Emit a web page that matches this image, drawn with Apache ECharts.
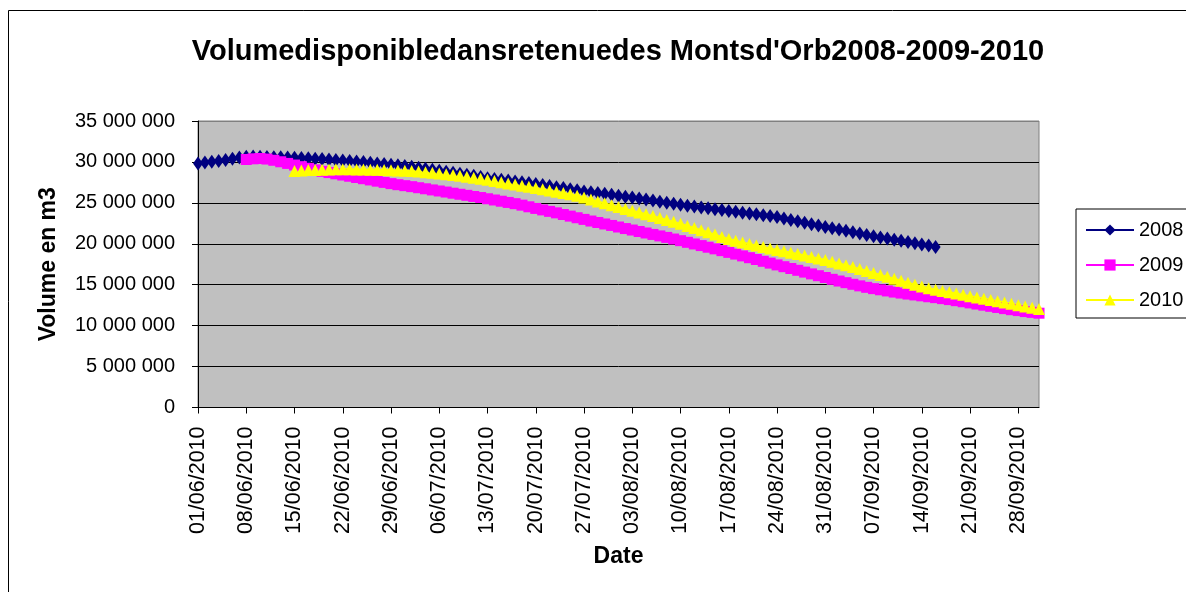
<!DOCTYPE html>
<html>
<head>
<meta charset="utf-8">
<script src="https://cdn.jsdelivr.net/npm/echarts@6/dist/echarts.min.js"></script>
<style>
  html, body { margin: 0; padding: 0; background: #fff; }
  #chart { width: 1186px; height: 592px; }
</style>
</head>
<body>
<div id="chart"></div>
<script>
// jours du 01/06/2010 au 01/10/2010
const categories = []
for (let d = Date.UTC(2010, 5, 1); d <= Date.UTC(2010, 9, 1); d += 86400000) {
  const t = new Date(d)
  const dd = String(t.getUTCDate()).padStart(2, '0')
  const mm = String(t.getUTCMonth() + 1).padStart(2, '0')
  categories.push(dd + '/' + mm + '/' + t.getUTCFullYear())
}

const seriesNames = ['2008', '2009', '2010']
const yTicks = [0, 5, 10, 15, 20, 25, 30, 35] // millions de m3

// volumes en millions de m3, un point par jour
const start2008 = 0
const vol2008 = [
  29.80, 29.92, 30.03, 30.12, 30.25, 30.40, 30.55,
  30.62, 30.65, 30.64, 30.60, 30.58, 30.56, 30.55,
  30.52, 30.48, 30.45, 30.40, 30.35, 30.30, 30.25,
  30.18, 30.12, 30.05, 29.98, 29.90, 29.82, 29.75,
  29.65, 29.58, 29.50, 29.40, 29.30, 29.18, 29.05,
  28.92, 28.80, 28.68, 28.55, 28.42, 28.30, 28.15,
  28.02, 27.92, 27.82, 27.72, 27.62, 27.52, 27.42,
  27.30, 27.18, 27.05, 26.92, 26.80, 26.66, 26.53,
  26.40, 26.30, 26.20, 26.10, 25.98, 25.86, 25.75,
  25.64, 25.52, 25.40, 25.28, 25.15, 25.02, 24.90,
  24.78, 24.66, 24.55, 24.44, 24.33, 24.22, 24.12,
  24.00, 23.90, 23.80, 23.70, 23.60, 23.50, 23.40,
  23.28, 23.10, 22.92, 22.75, 22.58, 22.40, 22.22,
  22.05, 21.90, 21.75, 21.60, 21.42, 21.25, 21.08,
  20.92, 20.78, 20.64, 20.50, 20.36, 20.22, 20.08,
  19.92, 19.78, 19.62
]

const start2009 = 7
const vol2009 = [
  30.30, 30.38, 30.42, 30.35, 30.20, 30.02, 29.82,
  29.62, 29.42, 29.22, 29.03, 28.85, 28.70, 28.55,
  28.40, 28.25, 28.10, 27.95, 27.80, 27.65, 27.50,
  27.35, 27.22, 27.10, 26.98, 26.85, 26.72, 26.58,
  26.45, 26.32, 26.18, 26.05, 25.92, 25.78, 25.65,
  25.50, 25.35, 25.20, 25.05, 24.90, 24.72, 24.52,
  24.32, 24.14, 23.96, 23.78, 23.58, 23.38, 23.18,
  22.98, 22.78, 22.60, 22.42, 22.24, 22.05, 21.86,
  21.68, 21.50, 21.32, 21.14, 20.96, 20.78, 20.58,
  20.38, 20.18, 19.98, 19.78, 19.58, 19.38, 19.16,
  18.95, 18.74, 18.52, 18.30, 18.08, 17.86, 17.64,
  17.42, 17.20, 16.98, 16.76, 16.54, 16.32, 16.10,
  15.88, 15.66, 15.45, 15.25, 15.05, 14.86, 14.68,
  14.52, 14.38, 14.24, 14.10, 13.98, 13.86, 13.75,
  13.64, 13.53, 13.42, 13.30, 13.18, 13.05, 12.92,
  12.78, 12.64, 12.50, 12.36, 12.22, 12.08, 11.95,
  11.84, 11.72, 11.62, 11.52
]

const start2010 = 14
const vol2010 = [
  28.90, 28.95, 29.00, 29.02, 29.05, 29.08, 29.10,
  29.10, 29.10, 29.08, 29.06, 29.05, 29.03, 29.00,
  28.98, 28.95, 28.92, 28.88, 28.82, 28.75, 28.68,
  28.60, 28.50, 28.40, 28.30, 28.20, 28.08, 27.95,
  27.82, 27.68, 27.52, 27.38, 27.24, 27.10, 26.96,
  26.82, 26.66, 26.50, 26.35, 26.20, 26.04, 25.86,
  25.65, 25.42, 25.18, 24.94, 24.70, 24.48, 24.26,
  24.04, 23.82, 23.60, 23.38, 23.15, 22.92, 22.68,
  22.44, 22.18, 21.92, 21.66, 21.40, 21.12, 20.84,
  20.58, 20.36, 20.16, 19.96, 19.78, 19.60, 19.42,
  19.24, 19.08, 18.92, 18.74, 18.56, 18.38, 18.20,
  18.02, 17.82, 17.60, 17.38, 17.15, 16.92, 16.68,
  16.44, 16.20, 15.96, 15.72, 15.48, 15.24, 15.00,
  14.78, 14.58, 14.40, 14.24, 14.08, 13.92, 13.76,
  13.60, 13.45, 13.30, 13.14, 12.98, 12.82, 12.66,
  12.50, 12.34, 12.18, 12.02
]

const colors = ['#000080', '#ff00ff', '#ffff00']
const symbols = ['diamond', 'rect', 'triangle']
const symbolSizes = [[10, 14], 11, [12, 12]]
const starts = [start2008, start2009, start2010]
const volumes = [vol2008, vol2009, vol2010]

const font = '"Liberation Sans", Arial, sans-serif'

// décale chaque série sur l'axe des jours
const pad = (start, values) => new Array(start).fill(null).concat(values)

const chart = echarts.init(document.getElementById('chart'))

chart.setOption({
  animation: false,
  title: {
    text: "Volumedisponibledansretenuedes Montsd'Orb2008-2009-2010",
    left: 613,
    textAlign: 'center',
    top: 32,
    textStyle: { fontFamily: font, fontSize: 29, fontWeight: 'bold', color: '#000' }
  },
  graphic: [
    {
      type: 'rect',
      shape: { x: 8.5, y: 10.5, width: 1300, height: 700 },
      style: { fill: 'none', stroke: '#000', lineWidth: 1 },
      silent: true
    }
  ],
  legend: {
    orient: 'vertical',
    left: 1076,
    top: 209,
    itemWidth: 48,
    itemHeight: 14,
    itemGap: 15,
    padding: [11, 8, 8, 9],
    borderColor: '#000',
    borderWidth: 1,
    backgroundColor: '#fff',
    textStyle: { fontFamily: font, fontSize: 20, color: '#000' },
    data: seriesNames
  },
  grid: {
    left: 198,
    right: 147,
    top: 121,
    bottom: 184.5,
    show: true,
    backgroundColor: '#c0c0c0',
    borderColor: '#808080',
    borderWidth: 1
  },
  xAxis: {
    type: 'category',
    data: categories,
    boundaryGap: false,
    name: 'Date',
    nameLocation: 'middle',
    nameGap: 138,
    nameTextStyle: { fontFamily: font, fontSize: 23, fontWeight: 'bold', color: '#000' },
    axisLine: { lineStyle: { color: '#000', width: 1 } },
    axisTick: { interval: 6, length: 6, lineStyle: { color: '#000' } },
    axisLabel: {
      interval: 6,
      rotate: 90,
      margin: 19,
      padding: [10, 0, 0, 0],
      fontFamily: font,
      fontSize: 21.5,
      color: '#000'
    },
    splitLine: { show: false }
  },
  yAxis: {
    type: 'value',
    min: yTicks[0],
    max: yTicks[yTicks.length - 1],
    interval: 5,
    name: 'Volume en m3',
    nameLocation: 'middle',
    nameGap: 138,
    nameTextStyle: { fontFamily: font, fontSize: 23, fontWeight: 'bold', color: '#000' },
    axisLine: { show: true, lineStyle: { color: '#000', width: 1 } },
    axisTick: { show: true, length: 6, lineStyle: { color: '#000' } },
    axisLabel: {
      margin: 23,
      fontFamily: font,
      fontSize: 20,
      color: '#000',
      formatter: v => (v === 0 ? '0' : v + ' 000 000')
    },
    splitLine: {
      lineStyle: {
        color: ['#000', '#000', '#000', '#000', '#000', '#000', '#000', '#808080'],
        width: 1
      }
    }
  },
  series: seriesNames.map((name, i) => ({
    name: name,
    type: 'line',
    data: pad(starts[i], volumes[i]),
    symbol: symbols[i],
    symbolSize: symbolSizes[i],
    showAllSymbol: true,
    color: colors[i],
    lineStyle: { color: colors[i], width: 2 },
    itemStyle: { color: colors[i] }
  }))
})
</script>
</body>
</html>
